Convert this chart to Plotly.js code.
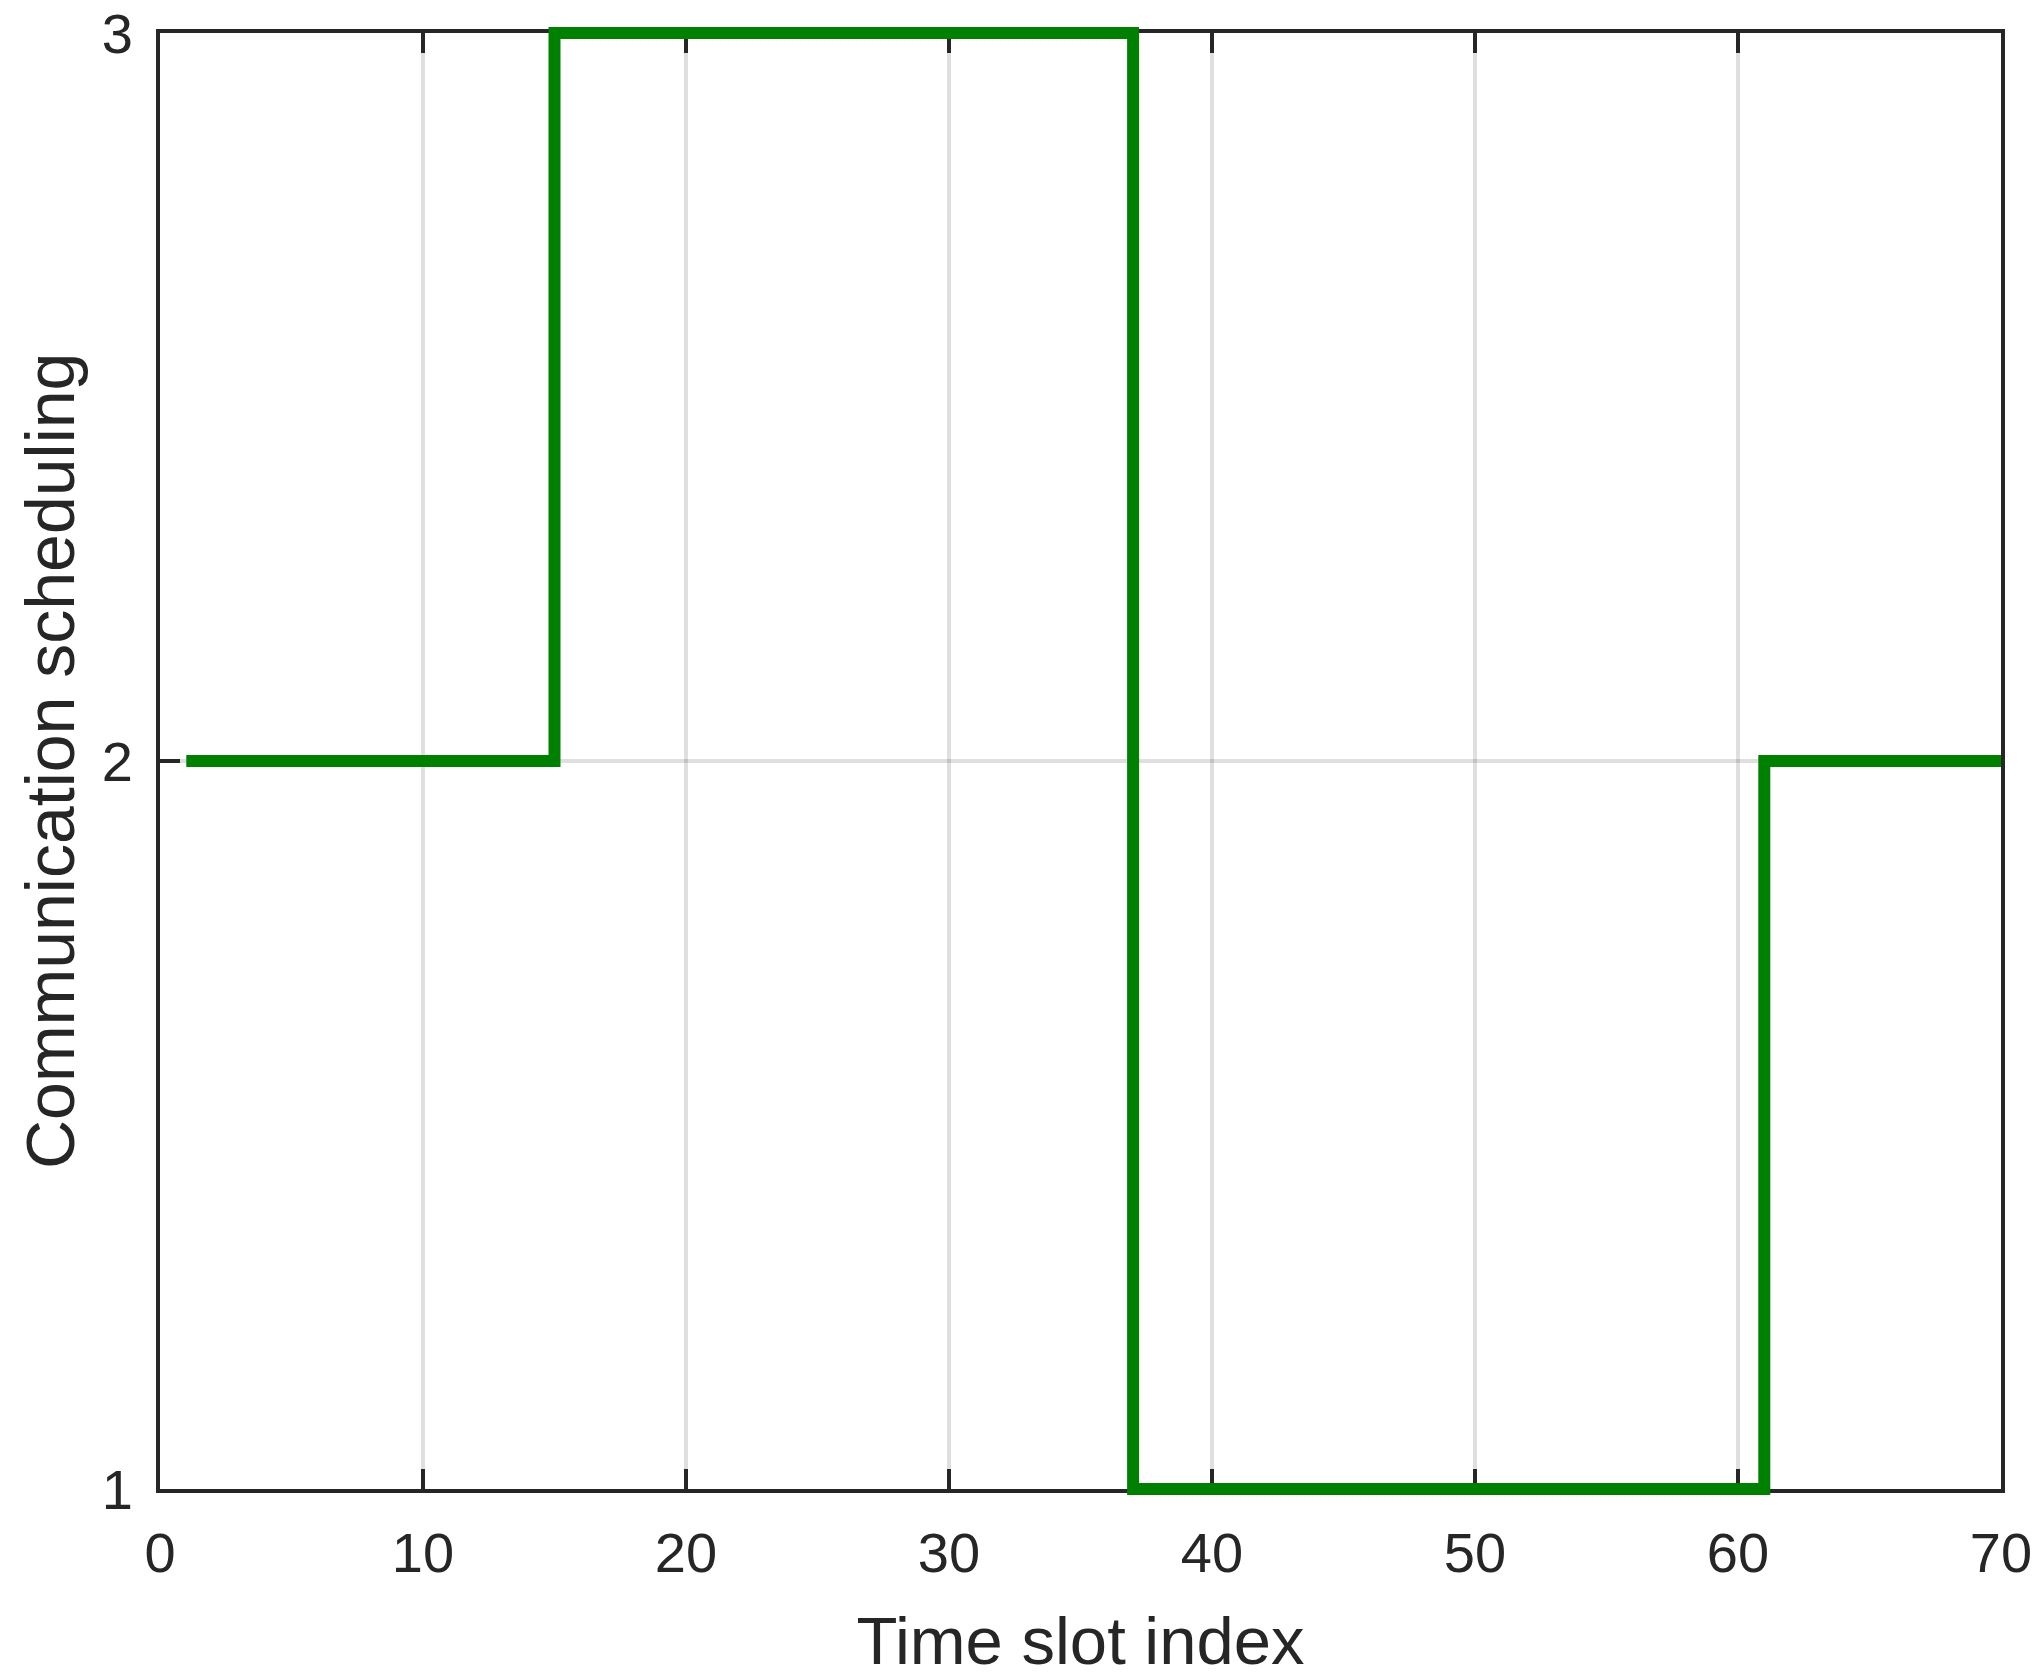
<!DOCTYPE html>
<html>
<head>
<meta charset="utf-8">
<script src="https://cdn.plot.ly/plotly-3.0.1.min.js"></script>
<style>html,body{margin:0;padding:0;background:#fff;}#chart{width:2043px;height:1678px;}</style>
</head>
<body>
<div id="chart"></div>
<script>
// Data: communication scheduling per time slot (stairs)
var timeSlots = [];
for (var i = 1; i <= 70; i++) timeSlots.push(i);
var scheduling = [
  2,2,2,2,2,2,2,2,2,2,2,2,2,2,
  3,3,3,3,3,3,3,3,3,3,3,3,3,3,3,3,3,3,3,3,3,3,
  1,1,1,1,1,1,1,1,1,1,1,1,1,1,1,1,1,1,1,1,1,1,1,1,
  2,2,2,2,2,2,2,2,2,2
];
var xTickVals = [0,10,20,30,40,50,60,70];
var yTickVals = [1,2,3];
var xTitle = 'Time slot index';
var yTitle = 'Communication scheduling';

// Layout geometry
var W = 2043, H = 1678;
var mL = 150, mR = 32, mT = 23, mB = 179;
var pad = 10;
var plotW = W - mL - mR, plotH = H - mT - mB;
var xRange = [0, 70], yRange = [1, 3];
var innerW = plotW - 2*pad, innerH = plotH - 2*pad;
var xExt = pad * (xRange[1]-xRange[0]) / innerW;
var yExt = pad * (yRange[1]-yRange[0]) / innerH;
var yTitleCenterPx = 50; // horizontal centre of the y title, px from left

var ink = '#262626';
var font = 'Liberation Sans, Arial, Helvetica, sans-serif';

// Hidden copy on the framed axes (so the axes frame is drawn)
var frameTrace = {
  x: timeSlots, y: scheduling,
  type: 'scatter', mode: 'lines',
  line: {shape: 'hv', color: 'rgba(0,0,0,0)', width: 0},
  opacity: 0,
  xaxis: 'x', yaxis: 'y',
  hoverinfo: 'skip', showlegend: false
};

// Visible stairs line on an unclipped overlay with identical scale
var trace = {
  x: timeSlots, y: scheduling,
  type: 'scatter', mode: 'lines',
  line: {shape: 'hv', color: '#008000', width: 12},
  xaxis: 'x2', yaxis: 'y2',
  hoverinfo: 'skip', showlegend: false
};

var layout = {
  width: W, height: H,
  margin: {l: mL, r: mR, t: mT, b: mB, pad: 0},
  paper_bgcolor: '#fff', plot_bgcolor: 'rgba(0,0,0,0)',
  font: {family: font, color: ink},
  showlegend: false,
  xaxis: {
    domain: [pad/plotW, 1 - pad/plotW],
    range: xRange, tickvals: xTickVals, ticktext: xTickVals.map(String),
    ticks: 'inside', ticklen: 20, tickwidth: 4, tickcolor: ink,
    showline: true, linecolor: ink, linewidth: 4, mirror: 'ticks',
    showgrid: true, gridcolor: 'rgba(38,38,38,0.15)', gridwidth: 4,
    zeroline: false,
    tickfont: {size: 56, color: ink, family: font},
    ticklabelstandoff: 12,
    title: {text: xTitle, font: {size: 67, color: ink, family: font}},
    automargin: false, anchor: 'y', fixedrange: true
  },
  yaxis: {
    domain: [pad/plotH, 1 - pad/plotH],
    range: yRange, tickvals: yTickVals, ticktext: yTickVals.map(String),
    ticks: 'inside', ticklen: 20, tickwidth: 4, tickcolor: ink,
    showline: true, linecolor: ink, linewidth: 4, mirror: 'ticks',
    showgrid: true, gridcolor: 'rgba(38,38,38,0.15)', gridwidth: 4,
    zeroline: false,
    tickfont: {size: 56, color: ink, family: font},
    ticklabelstandoff: 12,
    automargin: false, anchor: 'x', fixedrange: true
  },
  xaxis2: {
    domain: [0, 1], range: [xRange[0]-xExt, xRange[1]+xExt],
    visible: false, showgrid: false, zeroline: false, anchor: 'y2', fixedrange: true
  },
  yaxis2: {
    domain: [0, 1], range: [yRange[0]-yExt, yRange[1]+yExt],
    visible: false, showgrid: false, zeroline: false, anchor: 'x2', fixedrange: true
  },
  annotations: [{
    text: yTitle, textangle: -90,
    xref: 'paper', yref: 'paper',
    x: (yTitleCenterPx - mL) / plotW, y: 0.5,
    xanchor: 'center', yanchor: 'middle',
    showarrow: false,
    font: {size: 68, color: ink, family: font}
  }]
};

Plotly.newPlot('chart', [frameTrace, trace], layout, {displayModeBar: false, staticPlot: true});
</script>
</body>
</html>
